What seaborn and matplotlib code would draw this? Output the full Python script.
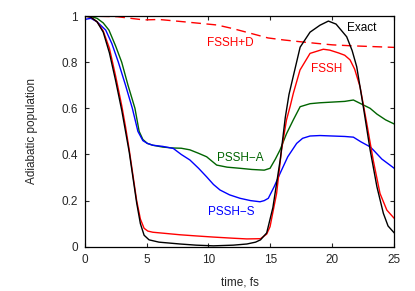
import pandas as pd
import matplotlib
matplotlib.use("Agg")
import matplotlib.pyplot as plt
import seaborn as sns

# values
exact_t = [0, 0.5, 1.0, 1.5, 2.0, 2.5, 3.0, 3.3, 3.6, 3.9, 4.2, 4.5, 4.8, 5.2, 6.0, 7.7, 9.0,
           10.4, 12.0, 13.1, 13.8, 14.2, 14.7, 15.2, 15.8, 16.2, 16.5, 16.85, 17.4, 18.2, 19.0,
           19.68, 20.3, 21.16, 21.6, 21.97, 22.5, 23.05, 23.6, 24.12, 24.5, 25.0]
exact_p = [1.0, 0.995, 0.975, 0.93, 0.84, 0.72, 0.59, 0.5, 0.41, 0.3, 0.19, 0.1, 0.05, 0.03,
           0.02, 0.012, 0.007, 0.004, 0.007, 0.012, 0.02, 0.03, 0.06, 0.17, 0.38, 0.56, 0.66,
           0.74, 0.865, 0.93, 0.96, 0.978, 0.965, 0.91, 0.85, 0.78, 0.607, 0.42, 0.26, 0.145,
           0.09, 0.06]

fssh_t = [0, 0.5, 1.0, 1.5, 2.0, 2.5, 3.0, 3.3, 3.6, 3.9, 4.2, 4.5, 4.8, 5.1, 5.5, 6.5, 7.7,
          9.0, 10.4, 12.0, 13.1, 14.2, 14.7, 14.97, 15.5, 15.9, 16.3, 16.6, 16.85, 17.39, 18.2,
          19.27, 19.8, 20.5, 21.0, 21.43, 21.8, 22.24, 22.78, 23.3, 23.85, 24.4, 25.0]
fssh_p = [1.0, 0.995, 0.975, 0.935, 0.86, 0.74, 0.61, 0.52, 0.42, 0.31, 0.2, 0.12, 0.08,
          0.068, 0.063, 0.058, 0.052, 0.047, 0.042, 0.037, 0.034, 0.035, 0.055, 0.087, 0.231,
          0.42, 0.55, 0.61, 0.665, 0.766, 0.838, 0.856, 0.852, 0.84, 0.83, 0.81, 0.77, 0.693,
          0.535, 0.376, 0.231, 0.159, 0.123]

fsshd_t = [0, 2.63, 4.79, 6.0, 8.0, 10.7, 12.0, 13.4, 14.8, 16.1, 17.5, 18.8, 20.0, 21.5,
           23.0, 25.0]
fsshd_p = [1.0, 0.997, 0.983, 0.985, 0.975, 0.961, 0.945, 0.925, 0.905, 0.896, 0.888,
           0.881, 0.875, 0.871, 0.868, 0.864]

pssha_t = [0, 0.5, 1.0, 1.5, 1.96, 2.5, 2.99, 3.5, 4.06, 4.4, 4.7, 5.06, 5.5, 6.3, 7.16, 7.8,
           8.5, 9.2, 9.85, 10.3, 10.66, 11.5, 12.55, 13.5, 14.5, 14.97, 15.4, 15.78, 16.3,
           16.85, 17.4, 18.2, 19.0, 20.0, 21.0, 21.7, 22.3, 23.05, 23.6, 24.3, 25.0]
pssha_p = [1.0, 0.998, 0.99, 0.97, 0.939, 0.87, 0.8, 0.7, 0.6, 0.5, 0.465, 0.448, 0.44,
           0.432, 0.428, 0.427, 0.42, 0.405, 0.39, 0.37, 0.354, 0.345, 0.34, 0.335, 0.332,
           0.34, 0.38, 0.42, 0.49, 0.55, 0.607, 0.62, 0.624, 0.627, 0.63, 0.636, 0.62, 0.6,
           0.575, 0.55, 0.532]

psshs_t = [0, 0.5, 1.0, 1.7, 2.2, 2.72, 3.3, 3.85, 4.3, 4.7, 5.06, 5.5, 6.3, 7.16, 7.8, 8.5,
           9.2, 9.85, 10.4, 10.93, 11.7, 12.55, 13.4, 14.16, 14.5, 14.83, 15.3, 15.78, 16.4,
           17.12, 17.6, 18.2, 19.0, 20.0, 21.0, 21.7, 22.3, 23.05, 23.3, 24.0, 25.0]
psshs_p = [0.985, 0.99, 0.975, 0.939, 0.88, 0.8, 0.7, 0.6, 0.5, 0.46, 0.448, 0.44, 0.435,
           0.426, 0.4, 0.376, 0.34, 0.303, 0.27, 0.246, 0.225, 0.21, 0.2, 0.195, 0.2, 0.21,
           0.26, 0.318, 0.39, 0.448, 0.47, 0.48, 0.482, 0.48, 0.478, 0.475, 0.455, 0.433,
           0.42, 0.38, 0.34]

x_ticks = [0, 5, 10, 15, 20, 25]
y_ticks = [0, 0.2, 0.4, 0.6, 0.8, 1.0]
y_tick_labels = ["0", "0.2", "0.4", "0.6", "0.8", "1"]

sns.set_style("ticks")
plt.rcParams['font.family'] = ['Liberation Sans', 'DejaVu Sans']
plt.rcParams['font.size'] = 8.5

fig = plt.figure(figsize=(4.15, 2.91), dpi=100)
ax = fig.add_axes([0.204, 0.152, 0.746, 0.793])

lw = 1.0
sns.lineplot(x=fsshd_t, y=fsshd_p, ax=ax, color="red", lw=lw, dashes=False,
             linestyle=(0, (7, 4)))
sns.lineplot(x=pssha_t, y=pssha_p, ax=ax, color="#006400", lw=lw)
sns.lineplot(x=psshs_t, y=psshs_p, ax=ax, color="blue", lw=lw)
sns.lineplot(x=fssh_t, y=fssh_p, ax=ax, color="red", lw=lw)
sns.lineplot(x=exact_t, y=exact_p, ax=ax, color="black", lw=lw)

ax.text(22.4, 0.948, "Exact", color="black", ha="center", va="center")
ax.text(11.8, 0.883, "FSSH+D", color="red", ha="center", va="center")
ax.text(19.5, 0.77, "FSSH", color="red", ha="center", va="center")
ax.text(12.55, 0.386, "PSSH\u2212A", color="#006400", ha="center", va="center")
ax.text(11.82, 0.15, "PSSH\u2212S", color="blue", ha="center", va="center")

ax.set_xlim(0, 25)
ax.set_ylim(0, 1)
ax.set_xticks(x_ticks)
ax.set_yticks(y_ticks)
ax.set_yticklabels(y_tick_labels)
ax.tick_params(direction="in", length=3, width=0.8, top=True, right=True, pad=5)
for s in ax.spines.values():
    s.set_linewidth(0.9)
    s.set_color("black")
ax.set_xlabel("time, fs", labelpad=8)
ax.set_ylabel("Adiabatic population", labelpad=17)

fig.savefig("out.png", dpi=100)
